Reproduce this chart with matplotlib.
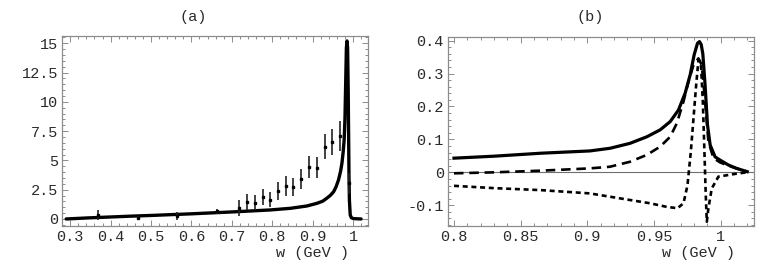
"""Two-panel resonance plot: (a) spectrum with data, (b) interference terms."""
import matplotlib
matplotlib.use("Agg")
import matplotlib.pyplot as plt
from matplotlib.ticker import AutoMinorLocator

# panel (a): model curve
curve_a_w = [0.29, 0.35, 0.40, 0.45, 0.50, 0.55, 0.60, 0.65, 0.70, 0.745, 0.795,
             0.845, 0.886, 0.911, 0.925, 0.935, 0.944, 0.952, 0.958, 0.964, 0.969,
             0.9725, 0.9755, 0.978, 0.980, 0.982, 0.9835, 0.985, 0.9865, 0.988,
             0.989, 0.990, 0.991, 0.993, 0.996, 1.001, 1.02]
curve_a_y = [0.0, 0.10, 0.17, 0.24, 0.30, 0.37, 0.44, 0.52, 0.60, 0.68, 0.77,
             0.91, 1.11, 1.34, 1.52, 1.77, 2.02, 2.33, 2.75, 3.33, 4.05,
             4.76, 5.7, 6.75, 8.6, 12.0, 14.6, 15.2, 14.6, 11.0,
             7.3, 3.6, 1.6, 0.34, 0.10, 0.03, 0.0]

# panel (a): measured points with errors
data_w = [0.370, 0.469, 0.564, 0.663, 0.718, 0.737, 0.757, 0.776, 0.795,
          0.814, 0.833, 0.852, 0.872, 0.891, 0.910, 0.930, 0.949, 0.968, 0.989]
data_y = [0.34, 0.11, 0.26, 0.65, 0.94, 1.42, 1.40, 1.85, 1.62,
          2.39, 2.85, 2.76, 3.45, 4.47, 4.37, 6.17, 6.6, 7.09, 3.05]
data_err = [0.43, 0.15, 0.34, 0.21, 0.68, 0.68, 0.67, 0.68, 0.64,
            0.74, 0.85, 0.77, 0.85, 0.94, 0.90, 1.05, 1.10, 1.28, 0.88]

# panel (b): three curves
solid_w = [0.80, 0.83, 0.865, 0.902, 0.917, 0.932, 0.9447, 0.9547, 0.9622,
           0.9684, 0.9734, 0.9772, 0.9802, 0.9827, 0.9842, 0.9855, 0.9867,
           0.9884, 0.9902, 0.9922, 0.9959, 0.9997, 1.006, 1.012, 1.020]
solid_y = [0.043, 0.049, 0.058, 0.065, 0.073, 0.088, 0.108, 0.129, 0.154,
           0.189, 0.24, 0.296, 0.357, 0.392, 0.397, 0.388, 0.360,
           0.265, 0.144, 0.083, 0.047, 0.037, 0.022, 0.012, 0.002]

dash_w = [0.80, 0.83, 0.865, 0.902, 0.917, 0.932, 0.9447, 0.9547, 0.9622,
          0.9672, 0.9722, 0.9759, 0.9797, 0.9834, 0.9859, 0.9884, 0.9909,
          0.9947, 0.9997, 1.006, 1.012, 1.020]
dash_y = [-0.003, 0.0, 0.005, 0.012, 0.017, 0.032, 0.053, 0.078, 0.108,
          0.149, 0.215, 0.275, 0.326, 0.346, 0.326, 0.215, 0.093,
          0.043, 0.030, 0.020, 0.012, 0.002]

dot_w = [0.80, 0.83, 0.865, 0.902, 0.917, 0.932, 0.9471, 0.9597, 0.9677,
         0.9722, 0.9752, 0.9777, 0.9797, 0.9817, 0.9834, 0.9852, 0.9867,
         0.9879, 0.9889, 0.9897, 0.9909, 0.9934, 0.9984, 1.006, 1.012, 1.020]
dot_y = [-0.041, -0.048, -0.054, -0.064, -0.074, -0.084, -0.094, -0.105, -0.109,
         -0.094, -0.039, 0.063, 0.164, 0.265, 0.341, 0.336, 0.215,
         0.063, -0.069, -0.150, -0.109, -0.049, -0.013, -0.008, -0.004, 0.0]

xticks_a = [0.3, 0.4, 0.5, 0.6, 0.7, 0.8, 0.9, 1.0]
xlabels_a = ["0.3", "0.4", "0.5", "0.6", "0.7", "0.8", "0.9", "1"]
yticks_a = [0, 2.5, 5, 7.5, 10, 12.5, 15]
ylabels_a = ["0", "2.5", "5", "7.5", "10", "12.5", "15"]
xticks_b = [0.8, 0.85, 0.9, 0.95, 1.0]
xlabels_b = ["0.8", "0.85", "0.9", "0.95", "1"]
yticks_b = [-0.1, 0, 0.1, 0.2, 0.3, 0.4]
ylabels_b = ["-0.1", "0", "0.1", "0.2", "0.3", "0.4"]

FONT = "Liberation Mono"
FRAME = "#8c8c8c"
TEXT = "#2a2a2a"

W, H = 773, 272
fig = plt.figure(figsize=(W / 100, H / 100), dpi=100)


def axes_px(left, top, right, bottom):
    return fig.add_axes([left / W, 1 - bottom / H, (right - left) / W, (bottom - top) / H])


def style(ax, xt, xl, yt, yl):
    ax.set_xticks(xt)
    ax.set_xticklabels(xl)
    ax.set_yticks(yt)
    ax.set_yticklabels(yl)
    ax.xaxis.set_minor_locator(AutoMinorLocator(5))
    ax.yaxis.set_minor_locator(AutoMinorLocator(5))
    for s in ax.spines.values():
        s.set_color(FRAME)
        s.set_linewidth(0.9)
    ax.tick_params(which="both", direction="in", top=True, right=True,
                   color=FRAME, width=0.7)
    ax.tick_params(which="major", length=4.5, labelsize=11, labelcolor=TEXT, pad=3)
    ax.tick_params(which="minor", length=2.2)
    for lab in ax.get_xticklabels() + ax.get_yticklabels():
        lab.set_family(FONT)


ax_a = axes_px(62.5, 36, 368, 226)
ax_a.plot(curve_a_w, curve_a_y, color="black", lw=2.4,
          solid_joinstyle="round", solid_capstyle="round")
ax_a.errorbar(data_w, data_y, yerr=data_err, fmt="s", ms=1.8, color="black",
              ecolor="#222222", elinewidth=1.2, capsize=0)
ax_a.set_xlim(0.281, 1.037)
ax_a.set_ylim(-0.6, 15.62)
style(ax_a, xticks_a, xlabels_a, yticks_a, ylabels_a)

ax_b = axes_px(448, 37, 754, 226)
ax_b.axhline(0, color="#6e6e6e", lw=0.8)
ax_b.plot(solid_w, solid_y, color="black", lw=2.3, solid_joinstyle="round")
ax_b.plot(dash_w, dash_y, color="black", lw=1.9, linestyle=(0, (3.6, 2.2)))
ax_b.plot(dot_w, dot_y, color="black", lw=1.9, linestyle=(0, (1.9, 1.4)))
ax_b.set_xlim(0.7955, 1.0251)
ax_b.set_ylim(-0.163, 0.411)
style(ax_b, xticks_b, xlabels_b, yticks_b, ylabels_b)

fig.text(193 / W, 1 - 17 / H, "(a)", family=FONT, fontsize=11, color=TEXT,
         ha="center", va="center")
fig.text(590 / W, 1 - 17 / H, "(b)", family=FONT, fontsize=11, color=TEXT,
         ha="center", va="center")
fig.text(312 / W, 1 - 253 / H, "w (GeV )", family=FONT, fontsize=11, color=TEXT,
         ha="center", va="center")
fig.text(698 / W, 1 - 253 / H, "w (GeV )", family=FONT, fontsize=11, color=TEXT,
         ha="center", va="center")

fig.savefig("out.png", dpi=100)
